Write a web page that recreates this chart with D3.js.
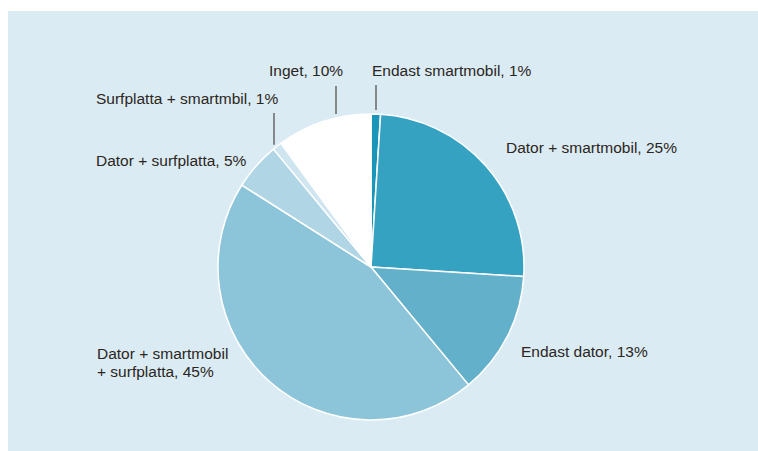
<!DOCTYPE html>
<meta charset="utf-8">
<script src="https://d3js.org/d3.v7.min.js"></script>
<style>
* { margin: 0; padding: 0; }
body { background: #fff; }
svg text { font-family: "Liberation Sans", Arial, sans-serif; font-size: 15.5px; fill: #2b2621; }
</style>
<svg width="758" height="451"></svg>
<script>
// data, clockwise from 12 o'clock
const categories = ["Endast smartmobil", "Dator + smartmobil", "Endast dator",
    "Dator + smartmobil + surfplatta", "Dator + surfplatta", "Surfplatta + smartmbil", "Inget"]
const shares = [1, 25, 13, 45, 5, 1, 10]
const colors = ["#1996b8", "#35a2c2", "#63b0cb", "#8cc4d9", "#b0d6e5", "#cfe5ef", "#ffffff"]

// label layout (text lines, position, optional leader line x)
const labelLayout = [
    {lines: ["Endast smartmobil, 1%"], x: 372, y: 76, lineX: 376, lineTop: 85},
    {lines: ["Dator + smartmobil, 25%"], x: 506, y: 153},
    {lines: ["Endast dator, 13%"], x: 521, y: 357},
    {lines: ["Dator + smartmobil", "+ surfplatta, 45%"], x: 97, y: 359},
    {lines: ["Dator + surfplatta, 5%"], x: 96, y: 166},
    {lines: ["Surfplatta + smartmbil, 1%"], x: 96, y: 104, lineX: 274, lineTop: 113},
    {lines: ["Inget, 10%"], x: 269, y: 76, lineX: 336, lineTop: 86}
]

const svg = d3.select("svg")
svg.append("rect")
    .attr("x", 8).attr("y", 11).attr("width", 750).attr("height", 440)
    .attr("fill", "#dbebf4")

const cx = 371, cy = 267, r = 153

let pie = d3.pie().sort(null).value(d => d)
let arc = d3.arc().innerRadius(0).outerRadius(r)

let g = svg.append("g").attr("transform", "translate(" + cx + "," + cy + ")")

g.selectAll("path")
    .data(pie(shares))
    .enter()
    .append("path")
    .attr("d", arc)
    .attr("fill", (d, i) => colors[i])
    .attr("stroke", "#fff")
    .attr("stroke-width", 1.5)
    .attr("stroke-linejoin", "round")

// leader lines: vertical, ending just above the pie edge
labelLayout.forEach(function (l) {
    if (l.lineX === undefined) return
    let dx = l.lineX - cx
    let edgeY = cy - Math.sqrt(r * r - dx * dx)
    svg.append("line")
        .attr("x1", l.lineX).attr("x2", l.lineX)
        .attr("y1", l.lineTop).attr("y2", edgeY - 4)
        .attr("stroke", "#4a4642")
        .attr("stroke-width", 1.2)
})

labelLayout.forEach(function (l, i) {
    let t = svg.append("text").attr("x", l.x).attr("y", l.y)
    l.lines.forEach(function (s, k) {
        t.append("tspan").attr("x", l.x).attr("dy", k === 0 ? 0 : 18).text(s)
    })
})
</script>
